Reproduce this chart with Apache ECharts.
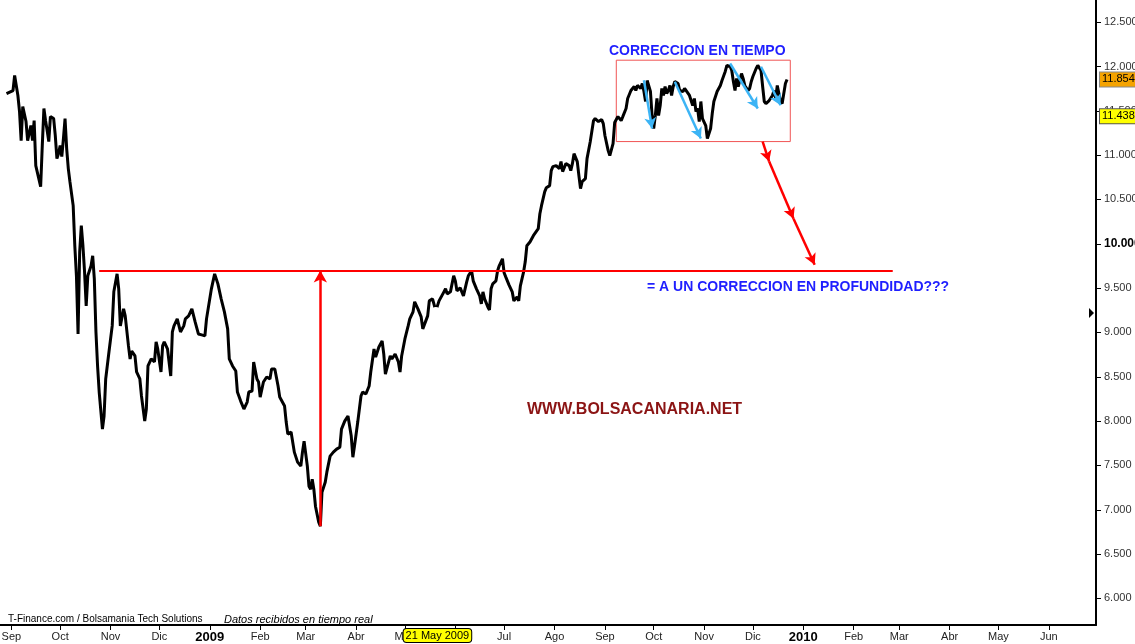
<!DOCTYPE html>
<html>
<head>
<meta charset="utf-8">
<script src="https://cdn.jsdelivr.net/npm/echarts@6/dist/echarts.min.js"></script>
<style>
  html, body { margin: 0; padding: 0; background: #fff; }
  #chart { width: 1135px; height: 644px; }
</style>
</head>
<body>
<div id="chart"></div>
<script>
// cierres diarios, por año
var days2008 = [
  '08-29',
  '09-02','09-03','09-04','09-05','09-06','09-07','09-08','09-10','09-11','09-13','09-14','09-15','09-16','09-17','09-19','09-20','09-21','09-22','09-23','09-24','09-25','09-27','09-28','09-29','09-30',
  '10-01','10-02','10-03','10-04','10-05','10-06','10-07','10-09','10-10','10-11','10-12','10-13','10-14','10-15','10-16','10-17','10-18','10-20','10-21','10-22','10-23','10-24','10-25','10-27','10-28','10-29','10-31',
  '11-02','11-03','11-05','11-06','11-07','11-09','11-10','11-12','11-13','11-14','11-16','11-17','11-19','11-20','11-22','11-23','11-24','11-26','11-28','11-29','11-30',
  '12-02','12-03','12-04','12-06','12-08','12-09','12-10','12-12','12-14','12-16','12-17','12-19','12-21','12-23','12-25','12-27','12-29','12-30'
];
var close2008 = [
  11695,
  11729,11899,11887,11673,11492,11164,11548,11379,11164,11334,11164,11390,10882,10882,10644,11108,11526,11390,11277,11153,11435,11413,11221,10961,11017,
  11108,10983,11187,11413,11074,10848,10701,10430,9978,9639,8983,9910,10204,9978,9684,9300,9639,9752,9865,9605,9006,8622,8328,7910,8057,8475,8780,
  9074,9458,9661,9492,9074,9266,9187,8848,8701,8791,8735,8554,8475,8283,8000,8136,8622,8701,8667,8893,8814,
  8554,8848,8893,8814,8509,9006,9074,9153,9006,9074,9153,9187,9266,9119,8983,8972,8961,9153
];
var days2009 = [
  '01-02','01-04','01-06','01-08','01-10','01-12','01-13','01-15','01-17','01-18','01-20','01-22','01-24','01-25','01-27','01-28','01-30','01-31',
  '02-01','02-03','02-05','02-07','02-08','02-10','02-12','02-13','02-14','02-16','02-17','02-18','02-20','02-22','02-24','02-26','02-27','02-28',
  '03-02','03-03','03-04','03-05','03-06','03-07','03-09','03-10','03-11','03-13','03-14','03-16','03-18','03-20','03-22','03-23','03-25','03-27','03-28','03-29','03-30','03-31',
  '04-02','04-04','04-05','04-07','04-09','04-10','04-12','04-13','04-15','04-17','04-18','04-19','04-21','04-22','04-23','04-25','04-27','04-28','04-29',
  '05-01','05-03','05-04','05-06','05-07','05-09','05-10','05-11','05-12','05-15','05-16','05-18','05-20','05-22','05-25','05-26','05-27','05-29','05-31',
  '06-01','06-02','06-04','06-06','06-08','06-09','06-11','06-12','06-14','06-16','06-17','06-18','06-19','06-21','06-22','06-23','06-24','06-26','06-27','06-28','06-30',
  '07-01','07-02','07-04','07-06','07-07','07-09','07-10','07-11','07-13','07-14','07-15','07-17','07-19','07-20','07-22','07-23','07-24','07-26','07-27','07-29','07-30','07-31',
  '08-02','08-04','08-05','08-06','08-08','08-10','08-11','08-12','08-13','08-15','08-16','08-17','08-18','08-20','08-21','08-23','08-25','08-26','08-28','08-30','08-31',
  '09-01','09-03','09-04','09-06','09-07','09-09','09-11','09-12','09-14','09-15','09-17','09-18','09-19','09-20','09-21','09-23','09-24','09-25','09-26','09-27','09-28','09-29','09-30',
  '10-01','10-02','10-03','10-04','10-05','10-06','10-07','10-08','10-09','10-10','10-11','10-12','10-13','10-14','10-16','10-17','10-19','10-20','10-21','10-23','10-24','10-25','10-26','10-27','10-28','10-29','10-30','10-31',
  '11-02','11-03','11-05','11-06','11-07','11-09','11-11','11-12','11-14','11-15','11-17','11-18','11-19','11-20','11-21','11-22','11-24','11-25','11-26','11-28','11-29','11-30',
  '12-01','12-03','12-04','12-06','12-07','12-08','12-09','12-11','12-13','12-14','12-15','12-16','12-18','12-19','12-20','12-21','12-22'
];
var close2009 = [
  9492,9661,9548,9379,9232,9040,8701,8622,8565,8328,8226,8136,8215,8328,8339,8667,8475,8441,
  8271,8441,8497,8475,8588,8588,8396,8271,8249,8170,7989,7853,7876,7650,7537,7492,7650,7774,
  7492,7266,7232,7345,7232,7040,6859,6814,7198,7311,7424,7605,7650,7684,7706,7910,8000,8057,8045,7831,7593,7718,
  7989,8283,8328,8305,8396,8554,8814,8723,8836,8904,8757,8531,8667,8735,8701,8757,8667,8554,8735,
  8927,9074,9153,9232,9345,9266,9288,9175,9040,9187,9356,9379,9243,9356,9458,9492,9435,9458,9639,
  9582,9469,9503,9413,9571,9639,9695,9582,9492,9413,9322,9458,9379,9288,9254,9492,9548,9582,9695,9752,9831,
  9673,9627,9537,9458,9356,9401,9356,9526,9684,9797,9978,10023,10091,10113,10170,10339,10430,10588,10633,10656,10825,10870,
  10882,10848,10927,10814,10904,10882,10825,10904,11017,10927,10769,10622,10701,10735,10961,11153,11390,11413,11379,11401,11356,
  11221,11051,10995,11130,11368,11435,11390,11435,11526,11639,11729,11718,11774,11729,11786,11752,11808,11718,11605,11842,11831,11718,11447,
  11300,11447,11639,11447,11560,11752,11673,11774,11695,11729,11786,11673,11774,11831,11808,11729,11718,11752,11774,11673,11695,11560,11639,11492,11526,11379,11605,11413,
  11334,11187,11300,11469,11605,11718,11786,11842,11944,12012,12000,11955,11831,11729,11865,11774,11921,11865,11786,11729,11752,11831,
  11887,11978,12012,11955,11774,11605,11582,11616,11673,11729,11639,11786,11605,11582,11695,11808,11854
];

var monthNames = ['Ene', 'Feb', 'Mar', 'Abr', 'May', 'Jun', 'Jul', 'Ago', 'Sep', 'Oct', 'Nov', 'Dic'];

// niveles marcados en el eje de precios
var lastLevel = 11854;
var refLevel = 11438;

// dibujos sobre el grafico (fecha, nivel)
var trendLine = [['2008-10-25', 9700], ['2010-02-25', 9700]];
var lowArrow = [['2009-03-10', 6814], ['2009-03-10', 9700]];
var boxCorners = [['2009-09-08', 12071], ['2009-12-24', 11153]];
var redArrows = [
  [['2009-12-07', 11153], ['2009-12-11', 10927]],
  [['2009-12-11', 10927], ['2009-12-26', 10283]],
  [['2009-12-26', 10283], ['2010-01-08', 9763]]
];
var blueArrows = [
  [['2009-09-25', 11845], ['2009-09-30', 11300]],
  [['2009-10-14', 11827], ['2009-10-30', 11187]],
  [['2009-11-17', 12034], ['2009-12-04', 11526]],
  [['2009-12-06', 11997], ['2009-12-18', 11563]]
];
var cursorPoint = ['2009-05-20', 9243];
var cursorDate = '2009-05-21';

var data = [];
days2008.forEach(function (d, i) { data.push(['2008-' + d, close2008[i]]); });
days2009.forEach(function (d, i) { data.push(['2009-' + d, close2009[i]]); });

function fmtNum(v) {
  return String(Math.round(v)).replace(/\B(?=(\d{3})+(?!\d))/g, '.');
}

function arrowItem(seg, color, width) {
  return [
    { coord: seg[0], symbol: 'none', lineStyle: { color: color, width: width, type: 'solid' } },
    { coord: seg[1], symbol: 'arrow', symbolSize: [9, 11] }
  ];
}

function levelItem(level, bg, border) {
  return {
    yAxis: level, symbol: 'none',
    lineStyle: { color: 'rgba(0,0,0,0)', width: 0 },
    label: {
      show: true, position: 'end', distance: 4, formatter: fmtNum(level),
      backgroundColor: bg, borderColor: border, borderWidth: 1,
      color: '#000', fontSize: 11, fontFamily: FONT, padding: [2, 2, 1, 2]
    }
  };
}

var FONT = '"Liberation Sans", Arial, sans-serif';

var myChart = echarts.init(document.getElementById('chart'));

var markLines = [];
markLines.push([
  { coord: trendLine[0], symbol: 'none', lineStyle: { color: '#ff0000', width: 2, type: 'solid' } },
  { coord: trendLine[1], symbol: 'none' }
]);
markLines.push([
  { coord: lowArrow[0], symbol: 'none', lineStyle: { color: '#ff0000', width: 2.5, type: 'solid' } },
  { coord: lowArrow[1], symbol: 'arrow', symbolSize: [10, 12] }
]);
redArrows.forEach(function (s) { markLines.push(arrowItem(s, '#ff0000', 2.5)); });
blueArrows.forEach(function (s) { markLines.push(arrowItem(s, '#3cb4f5', 2.5)); });
markLines.push(levelItem(lastLevel, '#f5a300', '#888'));
markLines.push(levelItem(refLevel, '#ffff00', '#555'));

var option = {
  animation: false,
  backgroundColor: '#fff',
  grid: { left: 0, right: 39, top: 0, bottom: 19, containLabel: false, outerBoundsMode: 'none' },
  xAxis: {
    type: 'time',
    min: '2008-08-25',
    max: '2010-06-30',
    splitNumber: 22,
    minInterval: 28 * 86400000,
    maxInterval: 31 * 86400000,
    axisLine: { lineStyle: { color: '#000', width: 2 } },
    axisTick: { show: true, length: 5, lineStyle: { color: '#000' } },
    splitLine: { show: false },
    axisLabel: {
      margin: 6,
      color: '#222',
      fontSize: 11,
      fontFamily: FONT,
      hideOverlap: false,
      formatter: function (value) {
        var d = new Date(value);
        if (d.getMonth() === 0) {
          return '{y|' + d.getFullYear() + '}';
        }
        return monthNames[d.getMonth()];
      },
      rich: {
        y: { fontSize: 13, fontWeight: 'bold', color: '#000', fontFamily: FONT }
      }
    },
    axisPointer: {
      show: true,
      status: 'show',
      type: 'none',
      value: +new Date(cursorDate),
      triggerTooltip: false,
      label: {
        show: true,
        formatter: '21 May 2009',
        backgroundColor: '#ffff00',
        borderColor: '#000',
        borderWidth: 1,
        color: '#000',
        fontSize: 11,
        fontFamily: FONT,
        padding: [1, 2, 1, 2],
        margin: 4
      }
    }
  },
  yAxis: {
    type: 'value',
    position: 'right',
    min: 5700,
    max: 12750,
    splitNumber: 14,
    scale: true,
    axisLine: { show: true, lineStyle: { color: '#000', width: 2 } },
    axisTick: { show: true, length: 5, lineStyle: { color: '#000' } },
    splitLine: { show: false },
    axisLabel: {
      margin: 8,
      color: '#333',
      fontSize: 11,
      fontFamily: FONT,
      showMinLabel: false,
      showMaxLabel: false,
      formatter: function (v) {
        if (v === 10000) { return '{b|' + fmtNum(v) + '}'; }
        return fmtNum(v);
      },
      rich: {
        b: { fontWeight: 'bold', fontSize: 12, color: '#000', fontFamily: FONT }
      }
    }
  },
  series: [{
    type: 'line',
    data: data,
    clip: false,
    showSymbol: false,
    symbol: 'none',
    lineStyle: { color: '#000', width: 3 },
    z: 3,
    markLine: {
      silent: true,
      animation: false,
      symbol: 'none',
      label: { show: false },
      emphasis: { disabled: true },
      data: markLines
    },
    markArea: {
      silent: true,
      itemStyle: { color: 'rgba(0,0,0,0)', borderColor: '#f05555', borderWidth: 1 },
      data: [[{ coord: boxCorners[0] }, { coord: boxCorners[1] }]]
    },
    markPoint: {
      silent: true,
      symbol: 'emptyCircle',
      symbolSize: 6,
      itemStyle: { color: '#fff', borderColor: '#000', borderWidth: 1 },
      label: { show: false },
      data: [{ coord: cursorPoint }]
    }
  }],
  graphic: [
    {
      type: 'text', left: 609, top: 44, z: 10,
      style: { text: 'CORRECCION EN TIEMPO', fill: '#1f1fff', font: 'bold 14px ' + FONT }
    },
    {
      type: 'text', left: 647, top: 280, z: 10,
      style: { text: '= A UN CORRECCION EN PROFUNDIDAD???', fill: '#1f1fff', font: 'bold 14px ' + FONT }
    },
    {
      type: 'text', left: 527, top: 402, z: 10,
      style: { text: 'WWW.BOLSACANARIA.NET', fill: '#8b1414', font: 'bold 16px ' + FONT }
    },
    {
      type: 'text', left: 8, top: 614, z: 10,
      style: { text: 'T-Finance.com / Bolsamania Tech Solutions', fill: '#000', font: '10px ' + FONT }
    },
    {
      type: 'text', left: 224, top: 614, z: 10,
      style: { text: 'Datos recibidos en tiempo real', fill: '#000', font: 'italic 11px ' + FONT }
    },
    {
      type: 'polygon', z: 10,
      shape: { points: [[1089, 308], [1094, 313], [1089, 318]] },
      style: { fill: '#000' }
    }
  ]
};

myChart.setOption(option, true);
</script>
</body>
</html>
